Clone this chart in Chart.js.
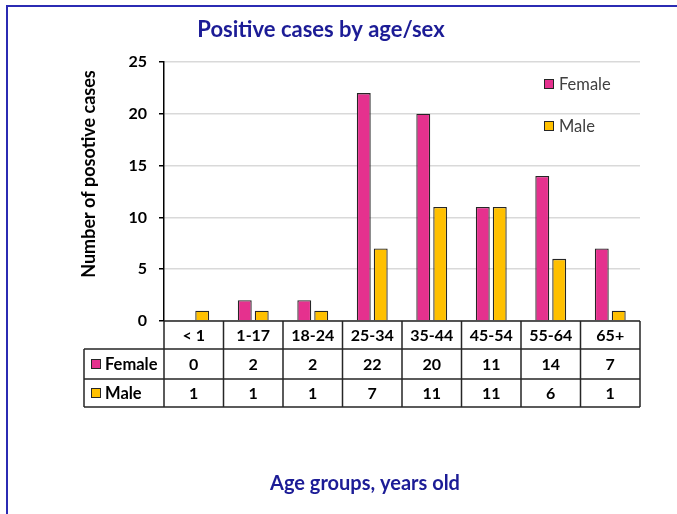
<!DOCTYPE html>
<html>
<head>
<meta charset="utf-8">
<script src="https://cdn.jsdelivr.net/npm/chart.js@4"></script>
<style>
body{margin:0;background:#fff}
#wrap{width:677px;height:514px}
</style>
</head>
<body>
<div id="wrap"><canvas id="c" width="677" height="514"></canvas></div>
<script>
/* DATA */
const ageGroups=['< 1','1-17','18-24','25-34','35-44','45-54','55-64','65+']
const female=[0,2,2,22,20,11,14,7]
const male=[1,1,1,7,11,11,6,1]
const seriesNames=['Female','Male']
const seriesColors=['#e5318e','#ffc000']

const FONT='Lato, "Open Sans", sans-serif'
const NAVY='#1c1c96'

/* EXTRA DRAWING: frame, titles, legend, data table */
const decor={
id:'decor',
afterDraw(chart){
const ctx=chart.ctx
const xs=chart.scales.x
const area=chart.chartArea
const colW=(area.right-area.left)/ageGroups.length
ctx.save()

// blue frame
ctx.strokeStyle='#2b2bb3'
ctx.lineWidth=2
ctx.beginPath()
ctx.moveTo(7,514);ctx.lineTo(7,6);ctx.lineTo(677,6)
ctx.stroke()

// titles
ctx.fillStyle=NAVY
ctx.textAlign='center'
ctx.textBaseline='middle'
ctx.font='bold 22px '+FONT
ctx.fillText('Positive cases by age/sex',321,30)
ctx.font='bold 20px '+FONT
ctx.fillText('Age groups, years old',365,484)

ctx.save()
ctx.translate(89,174)
ctx.rotate(-Math.PI/2)
ctx.fillStyle='#000'
ctx.font='bold 18px '+FONT
ctx.fillText('Number of posotive cases',0,0)
ctx.restore()

// legend
ctx.textAlign='left'
ctx.font='16.5px '+FONT
const legY=[84,126]
seriesNames.forEach((n,i)=>{
ctx.fillStyle=seriesColors[i]
ctx.fillRect(544,legY[i]-5,10,10)
ctx.strokeStyle='#262626';ctx.lineWidth=1
ctx.strokeRect(544.5,legY[i]-4.5,9,9)
ctx.fillStyle='#404040'
ctx.fillText(n,559,legY[i]+1)
})

// table
const top=area.bottom
const rows=[top,349,379,407]
const tLeft=84
ctx.strokeStyle='#262626'
ctx.lineWidth=1.5
ctx.beginPath()
ctx.moveTo(area.left,rows[0]);ctx.lineTo(area.right,rows[0])
for(let r=1;r<rows.length;r++){
ctx.moveTo(tLeft,rows[r]);ctx.lineTo(area.right,rows[r])
}
for(let i=0;i<=ageGroups.length;i++){
const x=area.left+i*colW
ctx.moveTo(x,rows[0]);ctx.lineTo(x,rows[3])
}
ctx.moveTo(tLeft,rows[1]);ctx.lineTo(tLeft,rows[3])
ctx.stroke()

ctx.fillStyle='#000'
ctx.textAlign='center'
ctx.font='bold 16px '+FONT
const tableData=[female,male]
ageGroups.forEach((g,i)=>{
const cx=xs.getPixelForValue(i)
ctx.fillText(g,cx,(rows[0]+rows[1])/2+1)
tableData.forEach((d,r)=>{
ctx.fillText(String(d[i]),cx,(rows[r+1]+rows[r+2])/2+1)
})
})
ctx.textAlign='left'
seriesNames.forEach((n,r)=>{
const cy=(rows[r+1]+rows[r+2])/2
ctx.fillStyle=seriesColors[r]
ctx.fillRect(91,cy-5,10,10)
ctx.strokeStyle='#262626';ctx.lineWidth=1
ctx.strokeRect(91.5,cy-4.5,9,9)
ctx.fillStyle='#000'
ctx.font='bold 16.5px '+FONT
ctx.fillText(n,105,cy+1)
})
ctx.restore()
}
}

new Chart(document.getElementById('c'),{
type:'bar',
data:{
labels:ageGroups,
datasets:[
{label:seriesNames[0],data:female,backgroundColor:seriesColors[0],borderColor:'#262626',borderWidth:1.3,borderSkipped:'start'},
{label:seriesNames[1],data:male,backgroundColor:seriesColors[1],borderColor:'#262626',borderWidth:1.3,borderSkipped:'start'}
]
},
options:{
responsive:false,
animation:false,
layout:{padding:{left:0,right:37,top:62,bottom:0}},
datasets:{bar:{categoryPercentage:0.57,barPercentage:0.82}},
plugins:{legend:{display:false},title:{display:false},tooltip:{enabled:false}},
scales:{
x:{
grid:{display:false},
border:{display:false},
ticks:{display:false},
afterFit(s){s.height=193}
},
y:{
min:0,max:25,
ticks:{stepSize:5,color:'#000',font:{family:FONT,size:16,weight:'bold'},padding:12},
grid:{color:'#d9d9d9',tickColor:'#000',tickLength:5,lineWidth:1.5},
border:{display:true,color:'#000',width:1.5},
afterFit(s){s.width=164}
}
}
},
plugins:[decor]
})
</script>
</body>
</html>
